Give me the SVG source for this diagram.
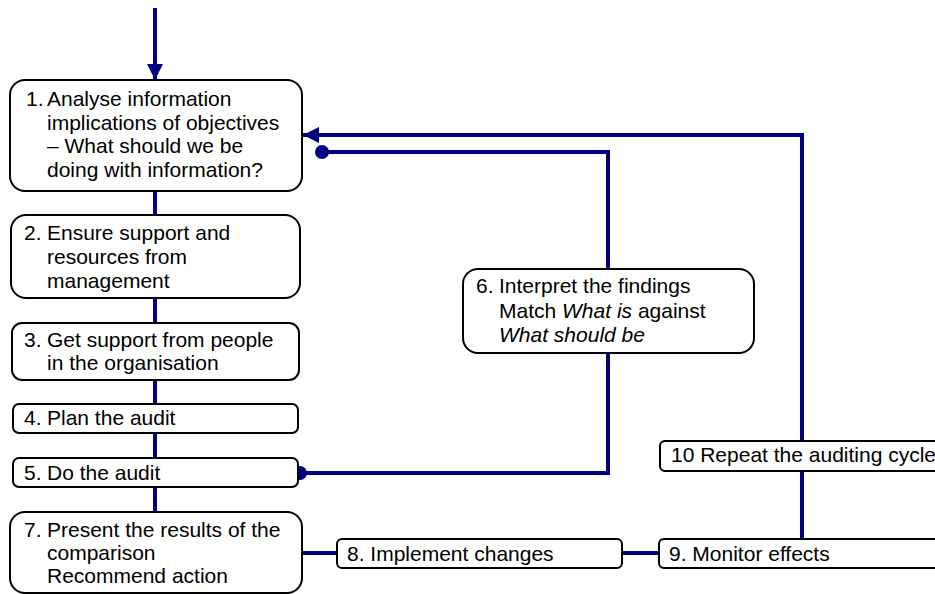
<svg xmlns="http://www.w3.org/2000/svg" width="935" height="594" viewBox="0 0 935 594">
  <style>
    .box { fill: #ffffff; stroke: #000000; stroke-width: 2; }
    .lbl { font-family: "Liberation Sans", Arial, sans-serif; font-size: 21px; fill: #000000; }
    .it { font-style: italic; }
    .wire { fill: none; stroke: #000080; stroke-width: 4; }
    .dot { fill: #000080; }
  </style>
  <defs>
    <marker id="arrow" viewBox="0 0 10 10" refX="10" refY="5" markerWidth="4" markerHeight="4" markerUnits="strokeWidth" orient="auto">
      <path d="M0,0 L10,5 L0,10 z" fill="#000080"/>
    </marker>
  </defs>

  <!-- connectors -->
  <g id="connectors">
    <!-- entry arrow into step 1 -->
    <path class="wire" d="M155,8 V80" marker-end="url(#arrow)"/>
    <!-- main column -->
    <path class="wire" d="M155,191 V215"/>
    <path class="wire" d="M155,298 V323"/>
    <path class="wire" d="M155,380 V404"/>
    <path class="wire" d="M155,433 V458"/>
    <path class="wire" d="M155,487 V512"/>
    <!-- audit to interpretation and back to step 1 -->
    <path class="wire" d="M300,473 H608 V152 H322"/>
    <circle class="dot" cx="300" cy="473" r="7"/>
    <circle class="dot" cx="322" cy="152" r="7"/>
    <!-- bottom row -->
    <path class="wire" d="M302,553 H337"/>
    <path class="wire" d="M622,553 H659"/>
    <!-- repeat cycle loop -->
    <path class="wire" d="M802,540 V135 H303" marker-end="url(#arrow)"/>
  </g>

  <g id="step1">
    <rect class="box" x="10" y="80" width="292" height="111" rx="15"/>
    <text class="lbl"><tspan x="26" y="106">1.</tspan><tspan x="47" y="106">Analyse information</tspan><tspan x="47" y="130">implications of objectives</tspan><tspan x="47" y="153">– What should we be</tspan><tspan x="47" y="177">doing with information?</tspan></text>
  </g>

  <g id="step2">
    <rect class="box" x="11" y="215" width="289" height="83" rx="15"/>
    <text class="lbl"><tspan x="24" y="240">2.</tspan><tspan x="47" y="240">Ensure support and</tspan><tspan x="47" y="264">resources from</tspan><tspan x="47" y="288">management</tspan></text>
  </g>

  <g id="step3">
    <rect class="box" x="12" y="323" width="287" height="57" rx="10"/>
    <text class="lbl"><tspan x="24" y="347">3.</tspan><tspan x="47" y="347">Get support from people</tspan><tspan x="47" y="370">in the organisation</tspan></text>
  </g>

  <g id="step4">
    <rect class="box" x="13" y="404" width="285" height="29" rx="6"/>
    <text class="lbl"><tspan x="24" y="425">4.</tspan><tspan x="47" y="425">Plan the audit</tspan></text>
  </g>

  <g id="step5">
    <rect class="box" x="13" y="458" width="285" height="29" rx="6"/>
    <text class="lbl"><tspan x="24" y="480">5.</tspan><tspan x="47" y="480">Do the audit</tspan></text>
  </g>

  <g id="step6">
    <rect class="box" x="463" y="269" width="291" height="84" rx="15"/>
    <text class="lbl"><tspan x="476" y="293">6.</tspan><tspan x="499" y="293">Interpret the findings</tspan><tspan x="499" y="318">Match <tspan class="it">What is</tspan> against</tspan><tspan class="it" x="499" y="342">What should be</tspan></text>
  </g>

  <g id="step7">
    <rect class="box" x="10" y="512" width="292" height="81" rx="15"/>
    <text class="lbl"><tspan x="24" y="537">7.</tspan><tspan x="47" y="537">Present the results of the</tspan><tspan x="47" y="560">comparison</tspan><tspan x="47" y="583">Recommend action</tspan></text>
  </g>

  <g id="step8">
    <rect class="box" x="337" y="539" width="285" height="29" rx="5"/>
    <text class="lbl" x="347" y="561">8. Implement changes</text>
  </g>

  <g id="step9">
    <rect class="box" x="659" y="539" width="300" height="29" rx="5"/>
    <text class="lbl" x="669" y="561">9. Monitor effects</text>
  </g>

  <g id="step10">
    <rect class="box" x="660" y="441" width="300" height="30" rx="5"/>
    <text class="lbl" x="671" y="462">10 Repeat the auditing cycle</text>
  </g>
</svg>
